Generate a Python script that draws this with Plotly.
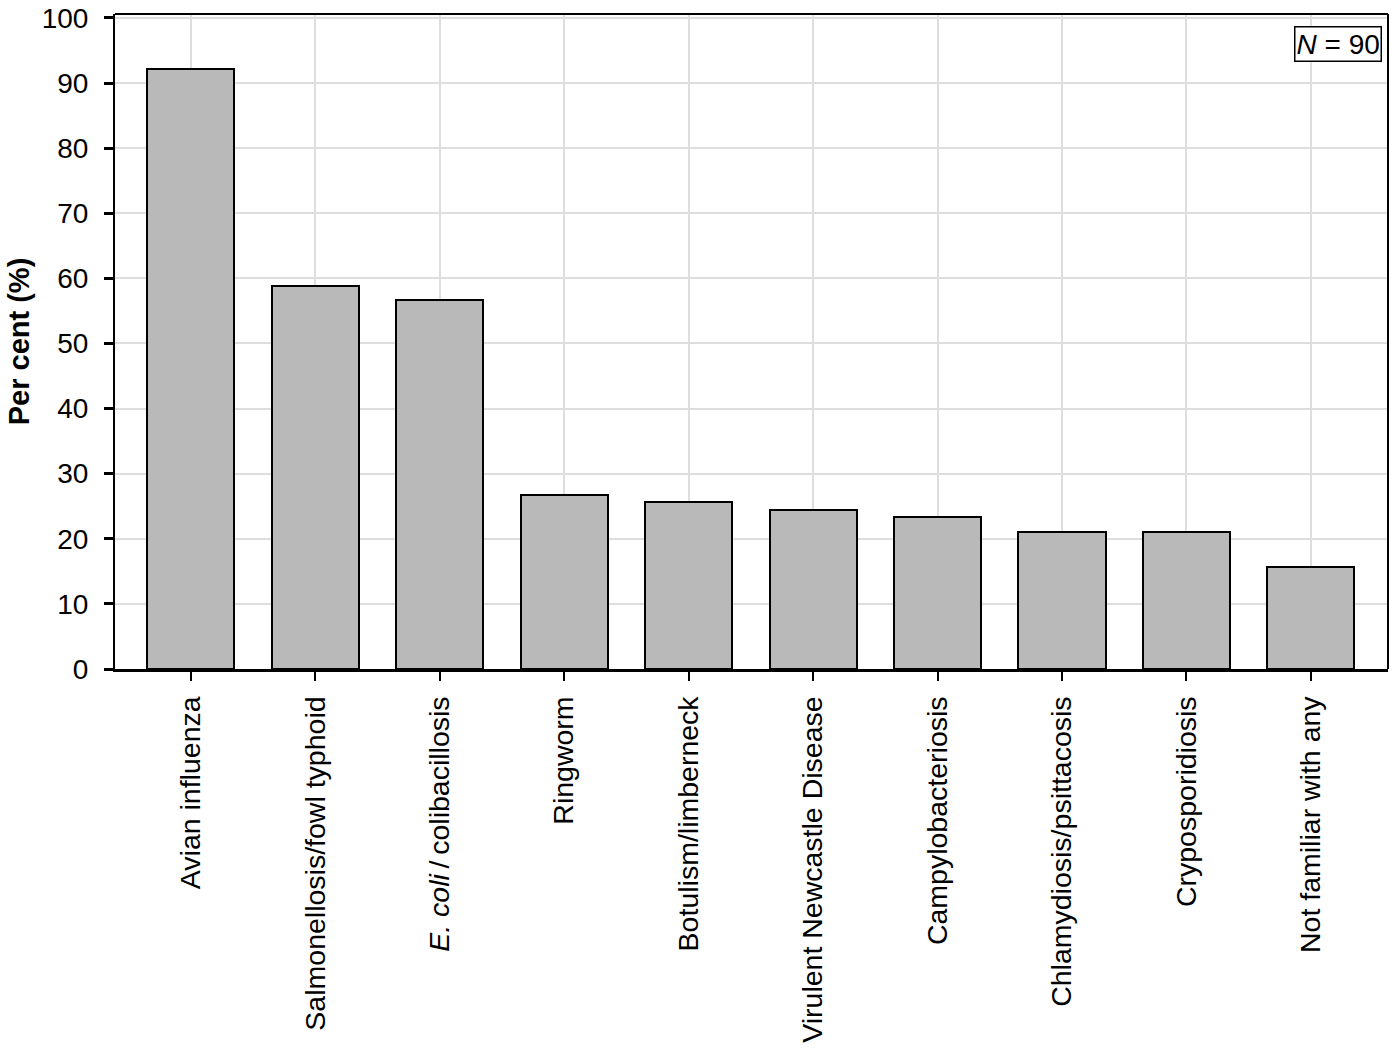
import plotly.graph_objects as go

categories = [
    "Avian influenza",
    "Salmonellosis/fowl typhoid",
    "<i>E. coli</i>\u2009/\u2009colibacillosis",
    "Ringworm",
    "Botulism/limberneck",
    "Virulent Newcastle Disease",
    "Campylobacteriosis",
    "Chlamydiosis/psittacosis",
    "Cryposporidiosis",
    "Not familiar with any",
]
percent = [92.2, 58.9, 56.7, 26.7, 25.6, 24.4, 23.3, 21.1, 21.1, 15.6]
y_ticks = [0, 10, 20, 30, 40, 50, 60, 70, 80, 90, 100]

FONT = "Liberation Sans, Arial, sans-serif"

fig = go.Figure(
    go.Bar(
        x=list(range(len(categories))),
        y=percent,
        width=0.70,
        marker=dict(color="#b9b9b9", line=dict(color="black", width=2)),
    )
)

fig.update_layout(
    width=1397,
    height=1054,
    margin=dict(l=115, r=9, t=14, b=385),
    plot_bgcolor="white",
    paper_bgcolor="white",
    showlegend=False,
    font=dict(family=FONT, size=28, color="black"),
    bargap=0,
)

fig.update_xaxes(
    range=[-0.61, 9.62],
    tickmode="array",
    tickvals=list(range(len(categories))),
    ticktext=categories,
    tickangle=-90,
    ticks="outside",
    ticklen=9,
    tickwidth=2,
    tickcolor="black",
    showgrid=True,
    gridcolor="#dedede",
    gridwidth=1.5,
    showline=True,
    linecolor="black",
    linewidth=3,
    mirror=False,
    automargin=False,
    ticklabelstandoff=4,
    tickfont=dict(size=28.5, family=FONT),
)

fig.update_yaxes(
    range=[0, 100.6],
    tickmode="array",
    tickvals=y_ticks,
    ticks="outside",
    ticklen=9,
    tickwidth=2.5,
    tickcolor="black",
    showgrid=True,
    gridcolor="#dedede",
    gridwidth=1.5,
    zeroline=False,
    showline=True,
    linecolor="black",
    linewidth=2,
    automargin=False,
    ticklabelstandoff=10,
    ticklabeloverflow="allow",
    tickfont=dict(size=28, family=FONT),
    title=dict(text="<b>Per cent (%)</b>", font=dict(size=29, family=FONT), standoff=4),
)

# frame top and right
fig.add_shape(type="line", xref="paper", yref="paper", x0=0, x1=1, y0=1, y1=1,
              line=dict(color="black", width=2))
fig.add_shape(type="line", xref="paper", yref="paper", x0=1, x1=1, y0=0, y1=1,
              line=dict(color="black", width=2))

fig.add_annotation(
    xref="paper", yref="paper", x=0.995, y=0.982,
    xanchor="right", yanchor="top",
    text="<i>N</i> = 90", showarrow=False,
    font=dict(size=28, family=FONT),
    bordercolor="black", borderwidth=1.5, borderpad=1, bgcolor="white",
)

fig.write_html(
    "out.html",
    config={"displayModeBar": False},
    post_script="document.body.style.margin='0';document.body.style.overflow='hidden';",
)
